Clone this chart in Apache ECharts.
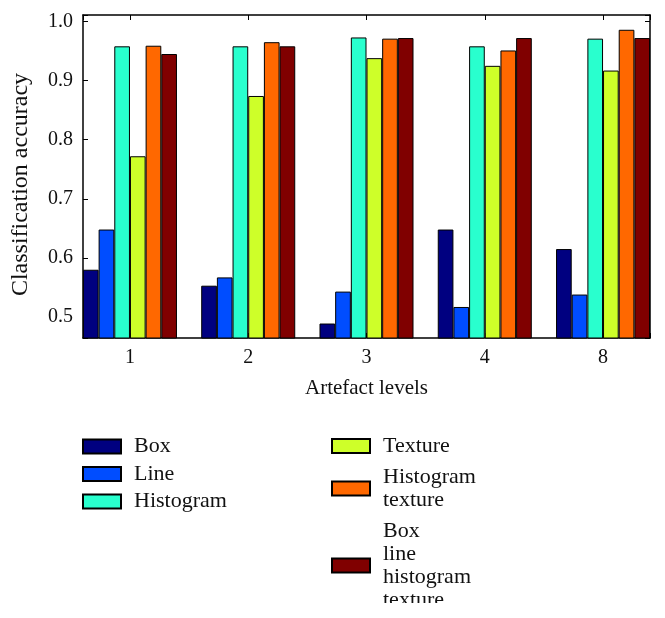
<!DOCTYPE html>
<html>
<head>
<meta charset="utf-8">
<script src="https://cdn.jsdelivr.net/npm/echarts@6/dist/echarts.min.js"></script>
<style>html,body{margin:0;padding:0;background:#fff;}#c{width:665px;height:618px;}</style>
</head>
<body>
<div id="c"></div>
<script>
// ---- data ----
var categories = ['1', '2', '3', '4', '8'];
var seriesNames = ['Box', 'Line', 'Histogram', 'Texture', 'Histogram\ntexture', 'Box\nline\nhistogram\ntexture'];
var boxValues = [0.580, 0.553, 0.489, 0.648, 0.615];
var lineValues = [0.648, 0.567, 0.543, 0.517, 0.538];
var histogramValues = [0.958, 0.958, 0.973, 0.958, 0.971];
var textureValues = [0.772, 0.874, 0.938, 0.925, 0.917];
var histTextureValues = [0.959, 0.965, 0.971, 0.951, 0.986];
var allValues = [0.945, 0.958, 0.972, 0.972, 0.972];
var yTicks = [0.5, 0.6, 0.7, 0.8, 0.9, 1.0];

// ---- styles ----
var colors = ['#000080', '#004dff', '#29ffce', '#ceff29', '#ff6800', '#800000'];
var FONT = '"Liberation Serif", "DejaVu Serif", serif';
var valueSets = [boxValues, lineValues, histogramValues, textureValues, histTextureValues, allValues];

var series = valueSets.map(function (vals, s) {
  return {
    type: 'bar',
    name: seriesNames[s],
    barWidth: 15.67,
    barGap: '0%',
    itemStyle: { color: colors[s], borderColor: '#000', borderWidth: 1 },
    emphasis: { disabled: true },
    data: vals.map(function (v, i) { return [i + 1, v]; })
  };
});

function isTick(v) {
  return yTicks.some(function (t) { return Math.abs(t - v) < 1e-6; });
}

var xMin = 0.603, xMax = 5.397;
var yMin = 0.4645, yMax = 1.011;

var legendText = { fontFamily: FONT, fontSize: 22, lineHeight: 23, color: '#111', padding: [0, 0, 0, 8] };

var chart = echarts.init(document.getElementById('c'), null, { renderer: 'canvas' });
chart.setOption({
  backgroundColor: '#fff',
  animation: false,
  textStyle: { fontFamily: FONT },
  grid: { left: 83, right: 15, top: 15, bottom: 280, containLabel: false },
  xAxis: [{
    type: 'value', min: xMin, max: xMax, position: 'bottom',
    name: 'Artefact levels', nameLocation: 'middle', nameGap: 40,
    nameTextStyle: { fontFamily: FONT, fontSize: 21, color: '#111' },
    axisLine: { show: true, lineStyle: { color: '#000', width: 1.5 } },
    axisTick: { show: true, inside: true, length: 5, lineStyle: { color: '#000' } },
    splitLine: { show: false },
    axisLabel: {
      fontFamily: FONT, fontSize: 20, color: '#111', margin: 10,
      formatter: function (v) {
        var r = Math.round(v);
        return (Math.abs(v - r) < 1e-6 && r >= 1 && r <= categories.length) ? categories[r - 1] : '';
      }
    }
  }, {
    type: 'value', min: xMin, max: xMax, position: 'top',
    axisLine: { show: true, lineStyle: { color: '#000', width: 1.5 } },
    axisTick: { show: true, inside: true, length: 5, lineStyle: { color: '#000' } },
    splitLine: { show: false },
    axisLabel: { show: false }
  }],
  yAxis: [{
    type: 'value', min: yMin, max: yMax, position: 'left',
    name: 'Classification accuracy', nameLocation: 'middle', nameGap: 50,
    nameTextStyle: { fontFamily: FONT, fontSize: 24, color: '#111', padding: [0, 16, 0, 0] },
    axisLine: { show: true, lineStyle: { color: '#000', width: 1.5 } },
    axisTick: { show: true, inside: true, length: 5, lineStyle: { color: '#000' } },
    splitLine: { show: false },
    axisLabel: {
      fontFamily: FONT, fontSize: 20, color: '#111', margin: 10,
      formatter: function (v) { return isTick(v) ? v.toFixed(1) : ''; }
    }
  }, {
    type: 'value', min: yMin, max: yMax, position: 'right',
    axisLine: { show: true, lineStyle: { color: '#000', width: 1.5 } },
    axisTick: { show: true, inside: true, length: 5, lineStyle: { color: '#000' } },
    splitLine: { show: false },
    axisLabel: { show: false }
  }],
  legend: [{
    orient: 'vertical', left: 82, top: 435, itemGap: 4.5, padding: 0,
    width: 200, height: 100,
    itemWidth: 38, itemHeight: 14, icon: 'rect', selectedMode: false,
    data: seriesNames.slice(0, 3),
    textStyle: legendText
  }, {
    orient: 'vertical', left: 331, top: 434.5, itemGap: 8, padding: 0,
    width: 220, height: 300,
    itemWidth: 38, itemHeight: 14, icon: 'rect', selectedMode: false,
    data: seriesNames.slice(3),
    textStyle: legendText
  }],
  graphic: [{
    type: 'rect', left: 0, top: 603, z: 100,
    shape: { width: 665, height: 15 },
    style: { fill: '#fff' }
  }],
  series: series
});
</script>
</body>
</html>
